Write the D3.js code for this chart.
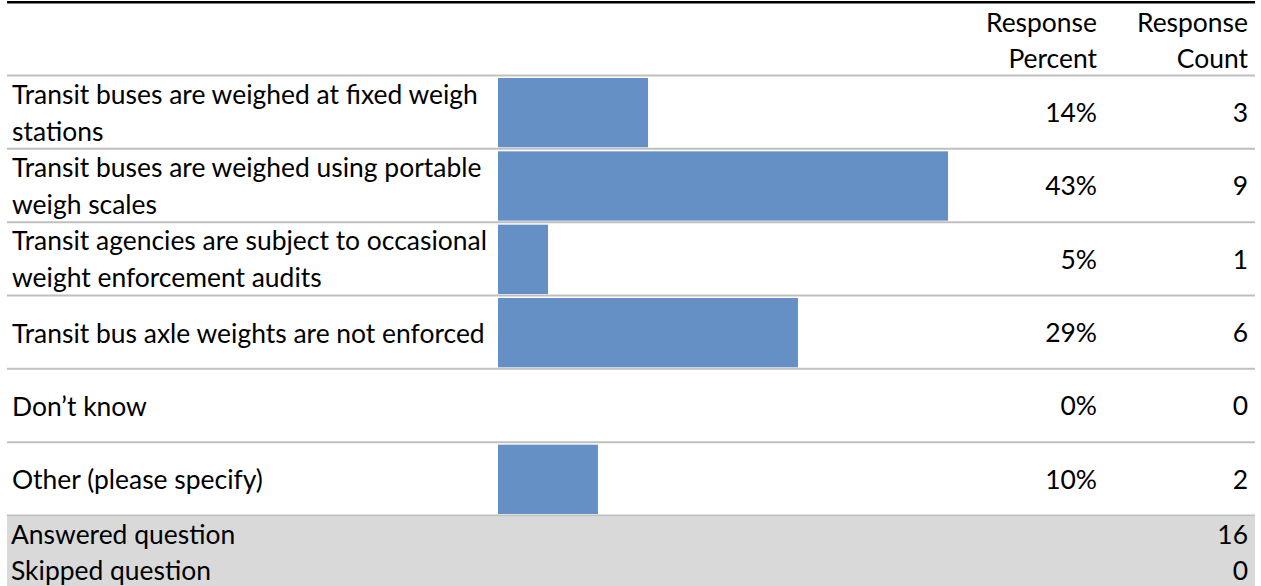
<!DOCTYPE html>
<html>
<head>
<meta charset="utf-8">
<script src="https://cdn.jsdelivr.net/npm/d3@7"></script>
<style>
  html, body { margin: 0; padding: 0; background: #fff; }
  svg { display: block; }
  text { font-family: Lato, "Open Sans", sans-serif; fill: #000; }
</style>
</head>
<body>
<svg id="chart" width="1261" height="586"></svg>
<script>
// ---- data ----
const categories = [
  "Transit buses are weighed at fixed weigh\nstations",
  "Transit buses are weighed using portable\nweigh scales",
  "Transit agencies are subject to occasional\nweight enforcement audits",
  "Transit bus axle weights are not enforced",
  "Don\u2019t know",
  "Other (please specify)"
];
const responsePercent = [14.29, 42.86, 4.76, 28.57, 0, 9.52];
const responseCount = [3, 9, 1, 6, 0, 2];
const headerPercent = ["Response", "Percent"];
const headerCount = ["Response", "Count"];
const summaryLabels = ["Answered question", "Skipped question"];
const summaryValues = [16, 0];

// ---- layout ----
const W = 1261, H = 586;
const left = 7, right = 1255;
const svg = d3.select("#chart");

const y = d3.scaleBand().domain(d3.range(categories.length)).range([75.5, 515.5]).padding(0);
const x = d3.scaleLinear().domain([0, 50]).range([498, 1023]);
const rowH = y.bandwidth();
const pctX = 1097, cntX = 1248, labelX = 12;

// font sizing: fit longest single-line label to reference width
const probe = svg.append("text").attr("font-size", 20).text("Transit bus axle weights are not enforced");
const fs = 20 * 473 / probe.node().getComputedTextLength();
probe.remove();

// summary band
svg.append("rect").attr("x", left).attr("y", 516.5).attr("width", right - left).attr("height", H - 516.5)
  .attr("fill", "#D9D9D9");

// top black rule
svg.append("rect").attr("x", left).attr("y", 1).attr("width", right - left).attr("height", 2.5).attr("fill", "#000");

// bars
svg.append("g").selectAll("rect").data(responsePercent).join("rect")
  .attr("x", x(0))
  .attr("y", (d, i) => y(i) + 2.5)
  .attr("width", d => x(d) - x(0))
  .attr("height", rowH - 4)
  .attr("fill", "#6590C6");

// row lines
const lineYs = y.domain().map(i => y(i)).concat([y.range()[1]]);
svg.append("g").selectAll("line").data(lineYs).join("line")
  .attr("x1", left).attr("x2", right)
  .attr("y1", d => d).attr("y2", d => d)
  .attr("stroke", "#BFBFBF").attr("stroke-width", 2);

// header
const hdr = svg.append("g").attr("font-size", fs).attr("text-anchor", "end");
headerPercent.forEach((t, i) => hdr.append("text").attr("x", pctX).attr("y", 31.5 + i * 36.5).text(t));
headerCount.forEach((t, i) => hdr.append("text").attr("x", cntX).attr("y", 31.5 + i * 36.5).text(t));

// category labels
const lab = svg.append("g").attr("font-size", fs);
categories.forEach((c, i) => {
  const lines = c.split("\n");
  const t = lab.append("text").attr("x", labelX);
  if (lines.length === 1) {
    t.attr("y", y(i) + 47).text(lines[0]);
  } else {
    lines.forEach((l, k) => t.append("tspan").attr("x", labelX).attr("y", y(i) + 28 + k * 37).text(l));
  }
});

// values
const fmt = d3.format(".0%");
svg.append("g").attr("font-size", fs).attr("text-anchor", "end").selectAll("text").data(responsePercent).join("text")
  .attr("x", pctX).attr("y", (d, i) => y(i) + 46.5).text(d => fmt(d / 100));
svg.append("g").attr("font-size", fs).attr("text-anchor", "end").selectAll("text").data(responseCount).join("text")
  .attr("x", cntX).attr("y", (d, i) => y(i) + 46.5).text(d => d);

// summary
const sm = svg.append("g").attr("font-size", fs);
summaryLabels.forEach((t, i) => sm.append("text").attr("x", 11).attr("y", 544 + i * 36).text(t));
summaryValues.forEach((v, i) => sm.append("text").attr("x", cntX).attr("y", 544 + i * 36).attr("text-anchor", "end").text(v));
</script>
</body>
</html>
